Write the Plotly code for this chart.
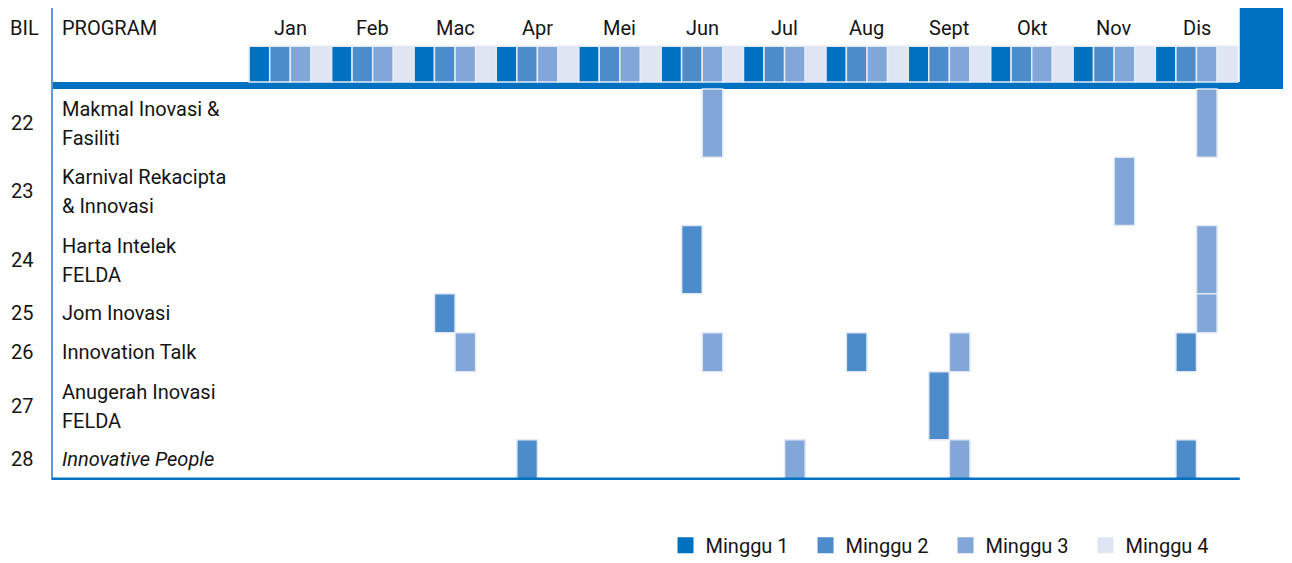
import plotly.graph_objects as go

months = ["Jan", "Feb", "Mac", "Apr", "Mei", "Jun", "Jul", "Aug", "Sept", "Okt", "Nov", "Dis"]
week_names = ["Minggu 1", "Minggu 2", "Minggu 3", "Minggu 4"]
week_colors = ["#0070C0", "#4D8CCB", "#80A7D8", "#DFE6F3"]

bil = [22, 23, 24, 25, 26, 27, 28]
programs = [
    ["Makmal Inovasi &", "Fasiliti"],
    ["Karnival Rekacipta", "& Innovasi"],
    ["Harta Intelek", "FELDA"],
    ["Jom Inovasi"],
    ["Innovation Talk"],
    ["Anugerah Inovasi", "FELDA"],
    ["<i>Innovative People</i>"],
]

# (bil, month, week) for each scheduled activity
sched_bil = [22, 22, 23, 24, 24, 25, 25, 26, 26, 26, 26, 26, 27, 28, 28, 28, 28]
sched_month = ["Jun", "Dis", "Nov", "Jun", "Dis", "Mac", "Dis", "Mac", "Jun", "Aug", "Sept", "Dis",
               "Sept", "Apr", "Jul", "Sept", "Dis"]
sched_week = [3, 3, 3, 2, 3, 2, 3, 3, 3, 2, 3, 2, 2, 2, 3, 3, 2]

FONT = "Roboto"
TXT = "#151515"

# row layout: two-line labels get taller rows
row_h = [1.75 if len(p) > 1 else 1.0 for p in programs]
row_top = []
acc = 0
for h in row_h:
    row_top.append(acc)
    acc += h
total_h = acc

HEAD_TOP, HEAD_BOT = -1.10, -0.18
LABEL_Y = -1.56
Y_TOP = -2.08
n_weeks = len(months) * 4
X_LEFT, X_RIGHT = -9.57, n_weeks + 2.2

fig = go.Figure()

for wi, (wname, col) in enumerate(zip(week_names, week_colors)):
    xs, bases, hs = [], [], []
    # header cells
    for mi in range(len(months)):
        xs.append(mi * 4 + wi + 0.5)
        bases.append(HEAD_TOP)
        hs.append(HEAD_BOT - HEAD_TOP)
    # scheduled marks
    for b, m, w in zip(sched_bil, sched_month, sched_week):
        if w - 1 != wi:
            continue
        r = bil.index(b)
        xs.append(months.index(m) * 4 + wi + 0.5)
        bases.append(row_top[r])
        hs.append(row_h[r])
    fig.add_trace(go.Bar(
        x=xs, y=hs, base=bases, width=1, name=wname, showlegend=False,
        marker=dict(color=col, line=dict(color="#E3EAF5", width=1.5)),
        hoverinfo="skip",
    ))
    # legend swatch
    fig.add_trace(go.Scatter(
        x=[None], y=[None], mode="markers", name=wname,
        marker=dict(symbol="square", size=16, color=col, line=dict(width=0)),
    ))

shapes = [
    # header band
    dict(type="rect", xref="paper", yref="y", x0=0, x1=1, y0=HEAD_BOT, y1=0,
         fillcolor="#0070C0", line=dict(width=0), layer="below"),
    # right block (header only)
    dict(type="rect", xref="x", yref="y", x0=n_weeks + 0.1, x1=X_RIGHT, y0=Y_TOP, y1=0,
         fillcolor="#0070C0", line=dict(width=0), layer="below"),
    # left vertical rule
    dict(type="line", xref="paper", yref="paper", x0=0, x1=0, y0=0, y1=1,
         line=dict(color="#5B9BD5", width=2)),
    # bottom rule
    dict(type="line", xref="x", yref="y", x0=X_LEFT, x1=n_weeks + 0.1, y0=total_h, y1=total_h,
         line=dict(color="#0070C0", width=2.5)),
]

ann = [
    dict(text="BIL", xref="paper", yref="y", x=-0.022, y=LABEL_Y, xanchor="center"),
    dict(text="PROGRAM", xref="paper", yref="y", x=0.0065, y=LABEL_Y, xanchor="left"),
]
for mi, m in enumerate(months):
    ann.append(dict(text=m, xref="x", yref="y", x=mi * 4 + 2, y=LABEL_Y, xanchor="center"))
for r, (b, p) in enumerate(zip(bil, programs)):
    yc = row_top[r] + row_h[r] / 2
    ann.append(dict(text=str(b), xref="paper", yref="y", x=-0.024, y=yc, xanchor="center"))
    if len(p) == 1:
        ann.append(dict(text=p[0], xref="paper", yref="y", x=0.0065, y=yc, xanchor="left"))
    else:
        for li, line in enumerate(p):
            ann.append(dict(text=line, xref="paper", yref="y", x=0.0065,
                            y=yc + (-0.36 if li == 0 else 0.385), xanchor="left"))
for a in ann:
    a.update(showarrow=False, yanchor="middle", font=dict(family=FONT, size=20, color=TXT))

fig.update_layout(
    width=1276, height=555,
    margin=dict(l=44, r=1, t=0, b=83, autoexpand=False),
    paper_bgcolor="white", plot_bgcolor="white",
    barmode="overlay",
    xaxis=dict(range=[X_LEFT, X_RIGHT], visible=False, fixedrange=True),
    yaxis=dict(range=[total_h + 0.03, Y_TOP], visible=False, fixedrange=True),
    shapes=shapes, annotations=ann,
    showlegend=True,
    legend=dict(orientation="h", x=0.4984, y=-0.138, xanchor="left", yanchor="middle",
                font=dict(family=FONT, size=20, color=TXT), entrywidth=95,
                bgcolor="rgba(0,0,0,0)"),
    font=dict(family=FONT),
)

fig.write_html("out.html")
